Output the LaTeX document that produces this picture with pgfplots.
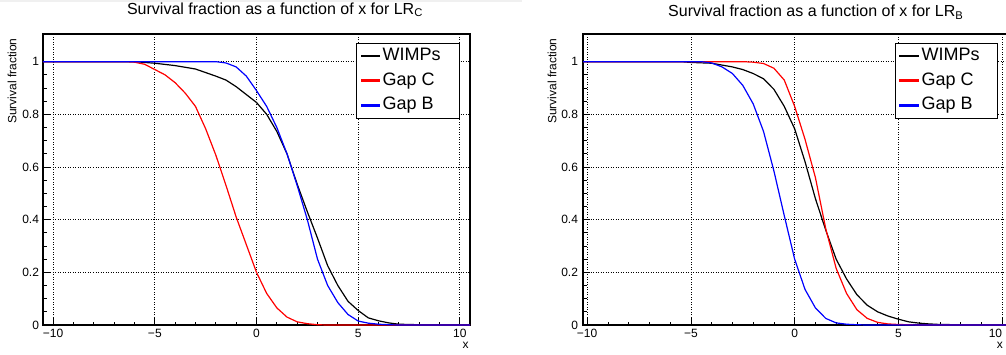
\documentclass[border=0pt]{standalone}
\usepackage{pgfplots}
\pgfplotsset{compat=1.18}
\usepackage{fontspec}
\setmainfont{Liberation Sans}

\pgfplotsset{
  rootstyle/.style={
    scale only axis,
    anchor=south west,
    height=291pt,
    ymin=0, ymax=1.105,
    clip=false,
    tick pos=left,
    tick align=inside,
    major tick length=7pt,
    minor tick length=3.5pt,
    every tick/.style={black, line width=0.8pt},
    minor x tick num=4,
    minor y tick num=3,
    xtick={-10,-5,0,5,10},
    ytick={0,0.2,0.4,0.6,0.8,1},
    yticklabels={\mbox{0},\mbox{0.2},\mbox{0.4},\mbox{0.6},\mbox{0.8},\mbox{1}},
    ticklabel style={font=\fontsize{12}{14}\selectfont},
    xticklabel style={yshift=-0.5pt},
    yticklabel style={xshift=-0.5pt},
    grid=major,
    major grid style={black, line width=0.7pt, dash pattern=on 0.8pt off 1.7pt},
    axis line style={line width=1.3pt},
    ylabel={Survival fraction},
    xlabel={x},
    label style={font=\fontsize{12}{14}\selectfont},
    title style={font=\fontsize{16}{19}\selectfont, anchor=base},
    legend cell align=left,
    legend style={anchor=north east, draw=black, fill=white,
      font=\fontsize{18}{20}\selectfont,
      inner xsep=4pt, inner ysep=4pt, row sep=7.7pt,
      nodes={inner sep=0pt, text height=13pt, text depth=4pt}},
  },
  myleg/.style={legend image code/.code={%
    \fill[#1] (0pt,-0.65pt) rectangle (18pt,0.65pt); \path (21pt,0pt);}},
}

\begin{document}
\begin{tikzpicture}
\useasboundingbox (0,0) rectangle (1006pt,354pt);
\fill[black!6] (0pt,352pt) rectangle (522pt,354pt);

% ---------------- Left pad: LR_C ----------------
\begin{axis}[rootstyle,
  at={(43pt,29pt)}, width=427pt,
  xmin=-10.5, xmax=10.5,
  xticklabels={\mbox{−10},\mbox{−5},\mbox{0},\mbox{5},\mbox{10}},
  title={Survival fraction as a function of x for LR\textsubscript{C}},
  title style={at={(axis description cs:0.5433,1.048)}},
  ylabel style={at={(axis description cs:-0.0726,0.997)}, anchor=east},
  xlabel style={at={(axis description cs:0.99,-0.069)}, anchor=center},
  legend style={at={(axis description cs:0.974,0.968)}},
  myleg,
]
\addplot[color=black, line width=1.2pt] coordinates {
(-10.5,1) (-6,1) (-5,0.994) (-4,0.985) (-3,0.972) (-2,0.945) (-1.5,0.93) (-1,0.905) (-0.5,0.875) (0,0.845) (0.5,0.80) (1,0.735) (1.5,0.65) (2,0.535) (2.5,0.43) (3,0.33) (3.5,0.225) (4,0.15) (4.5,0.09) (5,0.055) (5.5,0.027) (6,0.016) (6.5,0.008) (7,0.003) (8,0.001) (9,0) (10.5,0)
};
\addlegendentry{\makebox[72pt][l]{WIMPs}}
\addplot[color=red, line width=1.2pt] coordinates {
(-10.5,1) (-6.5,1) (-6,0.998) (-5.5,0.99) (-5,0.97) (-4.5,0.95) (-4,0.92) (-3.5,0.88) (-3,0.83) (-2.5,0.745) (-2,0.645) (-1.5,0.53) (-1,0.41) (-0.5,0.305) (0,0.2) (0.5,0.12) (1,0.065) (1.5,0.03) (2,0.012) (2.5,0.005) (3,0.001) (3.5,0) (10.5,0)
};
\addlegendentry{\makebox[72pt][l]{Gap C}}
\addplot[color=blue, line width=1.2pt] coordinates {
(-10.5,1) (-2,1) (-1.5,0.995) (-1,0.98) (-0.5,0.945) (0,0.89) (0.5,0.83) (1,0.75) (1.5,0.65) (2,0.53) (2.5,0.40) (3,0.25) (3.5,0.15) (4,0.085) (4.5,0.04) (5,0.015) (5.5,0.007) (6,0.003) (6.5,0.001) (7,0) (10.5,0)
};
\addlegendentry{\makebox[72pt][l]{Gap B}}
\end{axis}

% ---------------- Right pad: LR_B ----------------
\begin{axis}[rootstyle,
  at={(583pt,29pt)}, width=423.3pt,
  xmin=-10.2, xmax=10.2,
  xticklabels={\mbox{−10},\mbox{−5},\mbox{0},\mbox{5},\llap{10}},
  yticklabel style={xshift=-1pt},
  title={Survival fraction as a function of x for LR\textsubscript{B}},
  title style={at={(axis description cs:0.55,1.038)}},
  ylabel style={at={(axis description cs:-0.0732,0.997)}, anchor=east},
  xlabel style={at={(axis description cs:0.985,-0.069)}, anchor=center},
  legend style={at={(axis description cs:0.980,0.968)}},
  myleg,
]
\addplot[color=black, line width=1.2pt] coordinates {
(-10.2,1) (-5.5,1) (-5,0.997) (-4,0.994) (-3,0.98) (-2.5,0.97) (-2,0.955) (-1.5,0.935) (-1,0.895) (-0.5,0.83) (0,0.745) (0.5,0.62) (1,0.48) (1.5,0.36) (2,0.25) (2.5,0.175) (3,0.115) (3.5,0.075) (4,0.05) (4.5,0.034) (5,0.022) (5.5,0.012) (6,0.007) (6.5,0.004) (7,0.002) (8,0.001) (9,0) (10.2,0)
};
\addlegendentry{\makebox[72pt][l]{WIMPs}}
\addplot[color=red, line width=1.2pt] coordinates {
(-10.2,1) (-2.5,1) (-2,0.998) (-1.5,0.993) (-1,0.975) (-0.5,0.93) (0,0.83) (0.5,0.705) (1,0.56) (1.5,0.365) (2,0.215) (2.5,0.12) (3,0.058) (3.5,0.025) (4,0.01) (4.5,0.004) (5,0.002) (5.5,0.001) (6,0) (10.2,0)
};
\addlegendentry{\makebox[72pt][l]{Gap C}}
\addplot[color=blue, line width=1.2pt] coordinates {
(-10.2,1) (-4.5,1) (-4,0.995) (-3.5,0.98) (-3,0.955) (-2.5,0.91) (-2,0.84) (-1.5,0.735) (-1,0.585) (-0.5,0.415) (0,0.25) (0.5,0.135) (1,0.065) (1.5,0.025) (2,0.008) (2.5,0.003) (3,0.001) (3.5,0) (10.2,0)
};
\addlegendentry{\makebox[72pt][l]{Gap B}}
\end{axis}
\end{tikzpicture}
\end{document}
